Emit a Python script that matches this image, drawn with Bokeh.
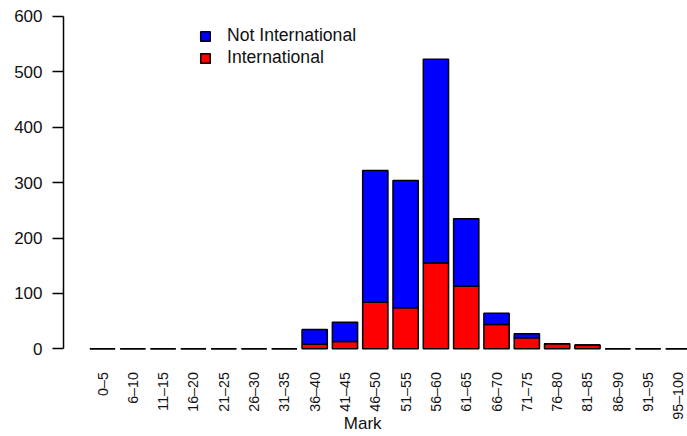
from bokeh.plotting import figure
from bokeh.models import Range1d, FixedTicker, Legend, LegendItem, Label, ColumnDataSource
from bokeh.core.properties import value
from bokeh.embed import file_html
from bokeh.resources import INLINE
import math

categories = ["0–5", "6–10", "11–15", "16–20", "21–25", "26–30", "31–35",
              "36–40", "41–45", "46–50", "51–55", "56–60", "61–65", "66–70",
              "71–75", "76–80", "81–85", "86–90", "91–95", "95–100"]
international = [0, 0, 0, 0, 0, 0, 0, 8, 13, 84, 74, 155, 113, 44, 20, 9, 7, 0, 0, 0]
not_international = [0, 0, 0, 0, 0, 0, 0, 27, 35, 238, 230, 368, 122, 20, 7, 0, 0, 0, 0, 0]
y_ticks = [0, 100, 200, 300, 400, 500, 600]

# R barplot positions: width 1, space 0.2
centers = [0.7 + 1.2 * i for i in range(len(categories))]

FONT = "Liberation Sans"
TXT = "#111111"

p = figure(width=687, height=436, output_backend="svg", toolbar_location=None,
           x_range=Range1d(-0.844, 23.86), y_range=Range1d(-158.4, 610.83),
           min_border_left=63, min_border_right=0, min_border_top=10, min_border_bottom=0)
p.outline_line_color = None
p.xgrid.visible = False
p.ygrid.visible = False
p.xaxis.visible = False
p.background_fill_color = "white"
p.border_fill_color = "white"

src = ColumnDataSource(dict(x=centers, intl=international, notintl=not_international,
                            label=categories))
renderers = p.vbar_stack(["intl", "notintl"], x="x", width=1.0, source=src,
                         fill_color=["#FF0000", "#0000FF"], line_color="black",
                         line_width=1.5)

# category labels (rotated, R las=2 style)
p.text(x="x", y=-42.0, text="label", source=src, angle=math.pi / 2,
       text_align="right", text_baseline="middle", text_font=value(FONT),
       text_font_size="14.3px", text_color=TXT)

# y axis
ya = p.yaxis[0]
ya.ticker = FixedTicker(ticks=y_ticks)
ya.bounds = (0, 600)
ya.major_tick_out = 11
ya.major_tick_in = 0
ya.minor_tick_line_color = None
ya.axis_line_width = 1.5
ya.major_tick_line_width = 1.5
ya.axis_line_color = "black"
ya.major_tick_line_color = "black"
ya.major_label_standoff = 10
ya.major_label_text_font = FONT
ya.major_label_text_font_size = "17px"
ya.major_label_text_color = TXT

p.add_layout(Label(x=11.0, y=-134.3, text="Mark", text_font=FONT,
                   text_font_size="17px", text_align="center",
                   text_baseline="middle", text_color=TXT))

legend = Legend(items=[LegendItem(label="Not International", renderers=[renderers[1]]),
                       LegendItem(label="International", renderers=[renderers[0]])],
                location=(136, 368), orientation="vertical",
                glyph_width=12, glyph_height=12, label_height=18, spacing=1,
                label_standoff=16, padding=0, margin=0,
                label_text_font=FONT, label_text_font_size="17.6px",
                label_text_color=TXT,
                border_line_color=None, background_fill_alpha=0)
p.add_layout(legend)

open("out.html", "w").write(file_html(p, INLINE))
